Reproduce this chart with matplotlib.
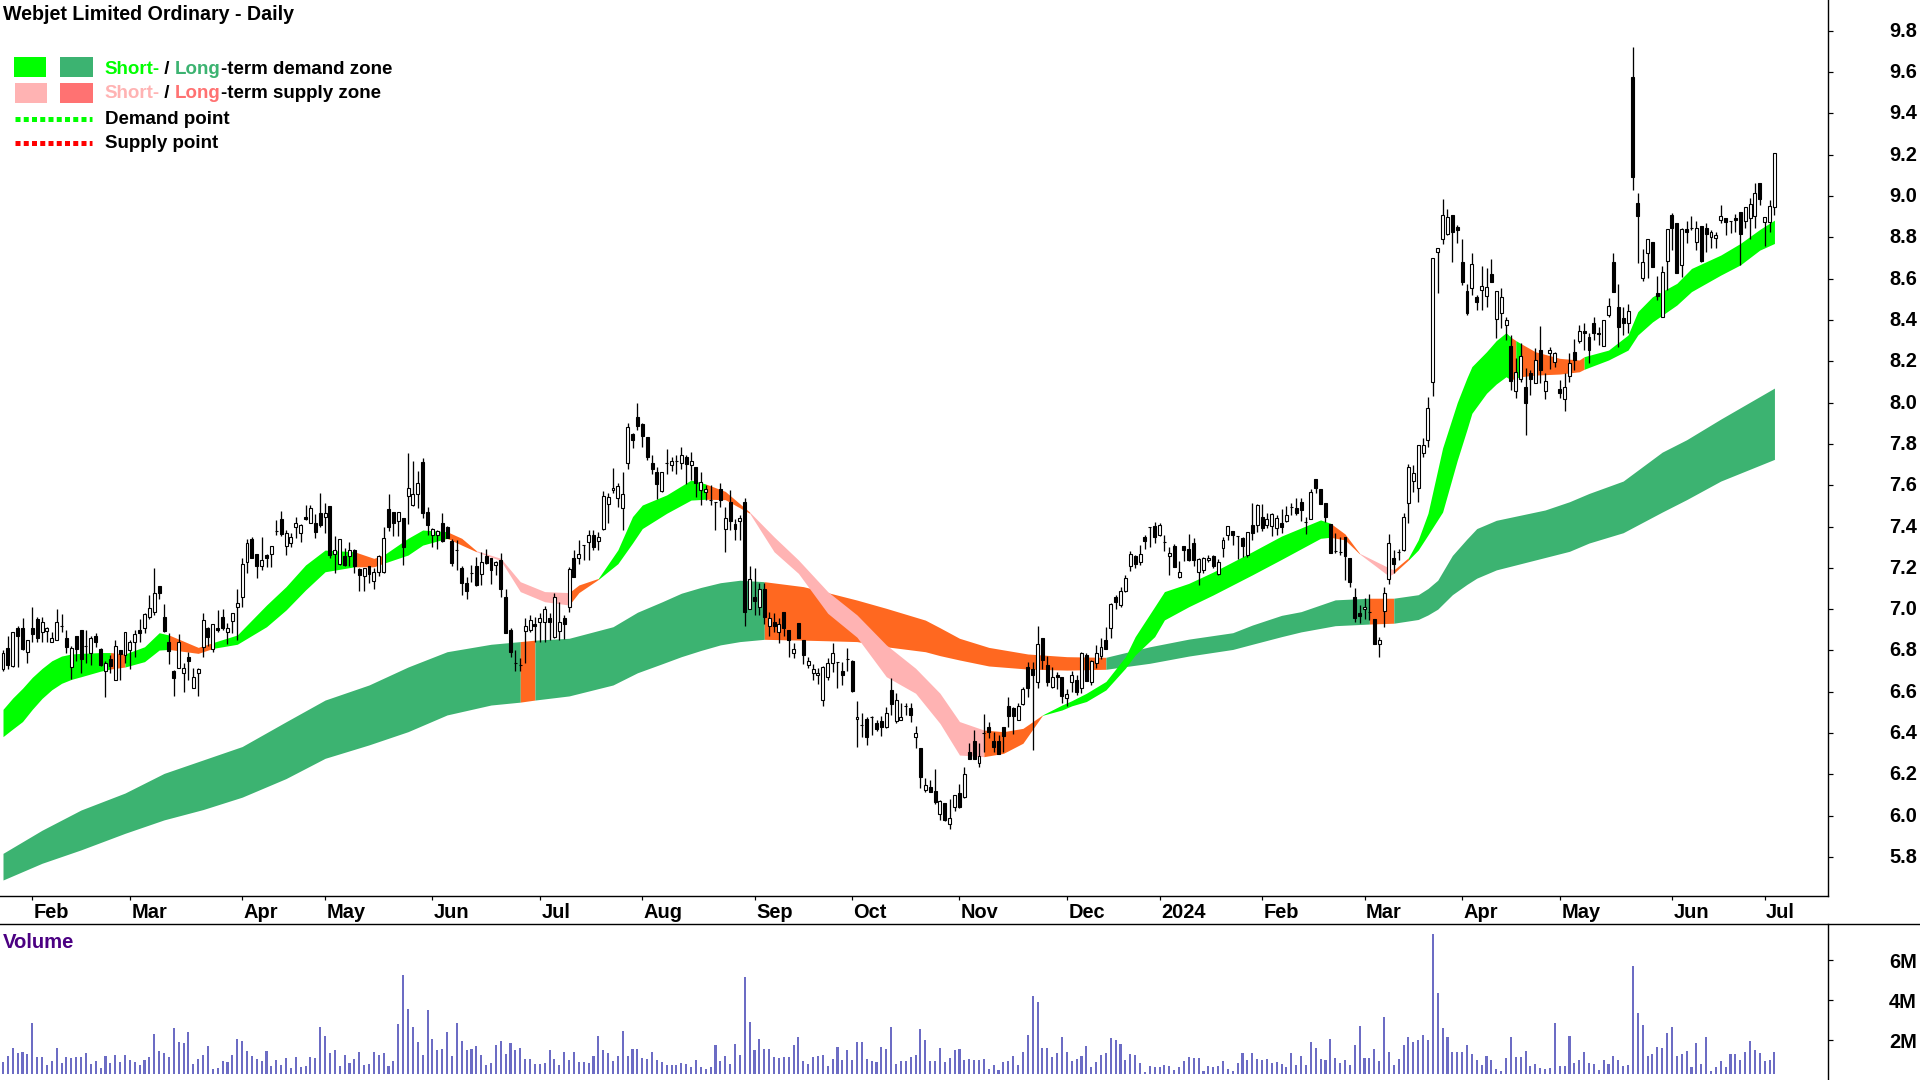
"""
Webjet daily candlestick chart with demand/supply zones and a volume panel.
Values were read off the reference picture.
"""
import matplotlib
matplotlib.use("Agg")  # no display needed, just save the plot to a file
import matplotlib.pyplot as plt
import numpy as np
from matplotlib.lines import Line2D
from matplotlib.patches import Rectangle
from matplotlib.transforms import ScaledTranslation

plt.rcParams["font.family"] = ["Liberation Sans", "DejaVu Sans"]
plt.rcParams["font.weight"] = "bold"

OPENS = [
    6.71,6.81,6.725,6.91,6.91,6.795,6.91,6.95,6.89,6.895,
    6.84,6.85,6.92,6.86,6.72,6.87,6.90,6.82,6.79,6.87,
    6.805,6.70,6.757,6.657,6.80,6.78,6.80,6.84,6.90,6.91,
    6.964,6.985,7.11,6.96,6.84,6.70,6.717,6.69,6.77,6.617,
    6.69,6.815,6.91,6.805,6.91,6.96,6.888,6.944,7.01,7.057,
    7.23,7.34,7.267,7.209,7.26,7.267,7.378,7.436,7.305,7.322,
    7.396,7.367,7.447,7.418,7.418,7.467,7.447,7.499,7.267,7.217,
    7.257,7.257,7.286,7.193,7.16,7.209,7.138,7.18,7.18,7.483,
    7.469,7.428,7.44,7.548,7.504,7.556,7.71,7.469,7.359,7.359,
    7.419,7.4,7.33,7.286,7.2,7.128,7.173,7.21,7.168,7.257,
    7.246,7.214,7.238,7.06,6.90,6.74,6.73,6.896,6.90,6.928,
    6.936,6.94,6.955,6.867,6.896,6.955,7.009,7.246,7.246,7.31,
    7.327,7.359,7.33,7.386,7.507,7.577,7.54,7.488,7.706,7.848,
    7.929,7.896,7.832,7.709,7.662,7.574,7.709,7.698,7.717,7.706,
    7.738,7.698,7.69,7.577,7.565,7.53,7.52,7.58,7.386,7.52,
    7.41,7.428,7.52,7.0,7.06,7.009,7.098,6.918,6.94,6.888,
    6.988,6.899,6.786,6.932,6.851,6.73,6.69,6.681,6.56,6.67,
    6.741,6.743,6.702,6.759,6.751,6.467,6.44,6.468,6.48,6.45,
    6.46,6.428,6.609,6.457,6.463,6.533,6.522,6.38,6.33,6.125,
    6.14,6.12,6.007,6.063,5.96,6.041,6.108,6.09,6.307,6.362,
    6.257,6.399,6.431,6.363,6.363,6.431,6.531,6.522,6.463,6.54,
    6.722,6.71,6.646,6.862,6.73,6.625,6.681,6.67,6.568,6.646,
    6.657,6.617,6.778,6.646,6.738,6.775,6.851,6.907,7.061,7.02,
    7.088,7.209,7.257,7.228,7.351,7.399,7.403,7.359,7.327,7.257,
    7.307,7.157,7.306,7.29,7.322,7.178,7.19,7.238,7.257,7.169,
    7.294,7.359,7.38,7.354,7.343,7.262,7.407,7.407,7.448,7.407,
    7.404,7.394,7.419,7.427,7.496,7.491,7.52,7.42,7.435,7.628,
    7.58,7.512,7.412,7.283,7.278,7.351,7.249,7.061,6.98,7.0,
    6.986,6.951,6.832,6.993,7.144,7.249,7.278,7.286,7.512,7.622,
    7.588,7.754,7.818,8.098,8.727,8.79,8.816,8.908,8.848,8.678,
    8.54,8.556,8.509,8.545,8.515,8.62,8.404,8.435,8.377,8.275,
    8.056,8.114,8.077,8.141,8.096,8.254,8.057,8.238,8.198,8.067,
    8.017,8.13,8.246,8.298,8.348,8.319,8.386,8.338,8.275,8.424,
    8.678,8.461,8.407,8.386,9.574,8.967,8.604,8.725,8.778,8.528,
    8.416,8.686,8.908,8.867,8.666,8.838,8.843,8.779,8.856,8.846,
    8.8,8.798,8.883,8.895,8.877,8.895,8.924,8.879,8.895,8.904,
    9.064,8.875,8.875,8.948,
]
HIGHS = [
    6.80,6.87,6.89,6.92,6.955,6.85,7.01,6.96,6.96,6.915,
    6.89,7.0,6.975,6.90,6.82,6.87,6.90,6.90,6.87,6.885,
    6.81,6.75,6.78,6.85,6.80,6.89,6.85,6.90,6.95,6.98,
    7.07,7.197,7.11,7.025,6.886,6.705,6.88,6.738,6.794,6.714,
    6.714,6.983,6.915,6.928,6.996,7.0,6.935,6.98,7.10,7.25,
    7.338,7.347,7.267,7.347,7.267,7.305,7.43,7.476,7.383,7.367,
    7.444,7.412,7.504,7.504,7.463,7.564,7.515,7.499,7.354,7.339,
    7.294,7.326,7.29,7.197,7.2,7.21,7.197,7.262,7.40,7.556,
    7.472,7.472,7.44,7.754,7.717,7.669,7.733,7.496,7.391,7.383,
    7.464,7.403,7.338,7.335,7.21,7.157,7.214,7.254,7.275,7.29,
    7.246,7.233,7.273,7.096,6.91,6.80,6.762,6.955,6.971,6.964,
    6.98,7.017,6.98,7.077,7.036,6.97,7.206,7.286,7.335,7.31,
    7.383,7.383,7.375,7.573,7.56,7.682,7.609,7.665,7.90,7.851,
    7.996,7.90,7.832,7.746,7.69,7.665,7.775,7.738,7.746,7.783,
    7.746,7.759,7.69,7.665,7.60,7.60,7.52,7.612,7.496,7.577,
    7.435,7.456,7.536,7.209,7.2,7.125,7.125,6.988,6.983,6.956,
    6.988,6.899,6.838,6.932,6.851,6.77,6.735,6.713,6.725,6.762,
    6.838,6.746,6.746,6.81,6.754,6.557,6.496,6.48,6.483,6.463,
    6.483,6.528,6.668,6.593,6.544,6.544,6.544,6.434,6.33,6.184,
    6.173,6.225,6.077,6.063,6.08,6.10,6.154,6.238,6.35,6.415,
    6.35,6.492,6.455,6.407,6.39,6.431,6.576,6.528,6.544,6.625,
    6.746,6.746,6.918,6.862,6.773,6.722,6.694,6.673,6.612,6.70,
    6.682,6.794,6.786,6.754,6.826,6.859,6.915,7.028,7.069,7.106,
    7.165,7.283,7.262,7.311,7.359,7.399,7.424,7.415,7.359,7.299,
    7.314,7.233,7.306,7.364,7.346,7.246,7.254,7.262,7.262,7.241,
    7.348,7.403,7.38,7.354,7.348,7.375,7.515,7.507,7.507,7.464,
    7.464,7.456,7.485,7.499,7.515,7.536,7.536,7.445,7.582,7.628,
    7.58,7.512,7.412,7.367,7.348,7.351,7.249,7.104,7.02,7.056,
    7.072,6.951,6.867,7.109,7.364,7.286,7.29,7.464,7.703,7.698,
    7.794,7.83,8.028,8.698,8.746,8.985,8.935,8.908,8.859,8.79,
    8.574,8.722,8.52,8.662,8.649,8.693,8.54,8.553,8.412,8.327,
    8.214,8.286,8.165,8.157,8.262,8.372,8.141,8.27,8.246,8.109,
    8.144,8.238,8.306,8.375,8.383,8.338,8.412,8.367,8.399,8.504,
    8.722,8.572,8.464,8.475,9.719,9.012,8.741,8.79,8.778,8.614,
    8.662,8.838,8.916,8.867,8.846,8.88,8.903,8.88,8.856,8.87,
    8.835,8.827,8.956,8.895,8.877,8.911,8.924,8.948,8.988,9.064,
    9.064,8.896,8.98,9.206,
]
LOWS = [
    6.70,6.71,6.72,6.72,6.80,6.74,6.84,6.84,6.84,6.84,
    6.84,6.85,6.89,6.79,6.66,6.75,6.69,6.74,6.73,6.815,
    6.725,6.575,6.69,6.657,6.657,6.74,6.71,6.77,6.84,6.885,
    6.95,6.97,7.05,6.89,6.733,6.58,6.713,6.60,6.657,6.617,
    6.58,6.77,6.82,6.794,6.89,6.90,6.83,6.883,6.85,7.01,
    7.177,7.25,7.15,7.19,7.205,7.205,7.36,7.354,7.262,7.302,
    7.343,7.323,7.43,7.418,7.343,7.396,7.37,7.25,7.173,7.214,
    7.21,7.21,7.173,7.09,7.09,7.125,7.10,7.16,7.176,7.38,
    7.354,7.354,7.214,7.412,7.50,7.488,7.44,7.359,7.30,7.29,
    7.323,7.343,7.21,7.19,7.07,7.05,7.133,7.114,7.117,7.22,
    7.122,7.165,7.06,6.883,6.77,6.70,6.70,6.74,6.89,6.843,
    6.843,6.843,6.85,6.86,6.85,6.854,6.988,7.157,7.22,7.238,
    7.238,7.286,7.286,7.383,7.415,7.56,7.496,7.383,7.68,7.778,
    7.867,7.786,7.722,7.654,7.532,7.569,7.654,7.67,7.654,7.678,
    7.605,7.625,7.545,7.504,7.53,7.504,7.383,7.496,7.278,7.383,
    7.335,7.335,6.92,7.0,6.972,6.972,6.93,6.87,6.89,6.835,
    6.87,6.767,6.762,6.859,6.733,6.713,6.657,6.638,6.533,6.657,
    6.694,6.62,6.633,6.70,6.60,6.331,6.383,6.343,6.39,6.412,
    6.388,6.423,6.49,6.447,6.463,6.488,6.452,6.33,6.133,6.117,
    6.117,6.057,5.98,5.976,5.934,6.025,6.036,6.085,6.273,6.273,
    6.238,6.31,6.375,6.31,6.297,6.31,6.43,6.394,6.463,6.536,
    6.576,6.32,6.62,6.71,6.63,6.62,6.615,6.544,6.53,6.60,
    6.585,6.593,6.65,6.633,6.714,6.757,6.806,6.859,6.999,7.012,
    7.085,7.185,7.198,7.214,7.29,7.303,7.322,7.354,7.283,7.166,
    7.203,7.149,7.233,7.233,7.209,7.117,7.173,7.23,7.198,7.165,
    7.251,7.335,7.311,7.241,7.251,7.254,7.335,7.375,7.38,7.391,
    7.356,7.359,7.367,7.424,7.456,7.456,7.427,7.364,7.435,7.561,
    7.507,7.42,7.273,7.27,7.262,7.141,7.109,6.94,6.932,6.951,
    6.947,6.832,6.77,6.915,7.122,7.173,7.238,7.283,7.415,7.569,
    7.52,7.738,7.783,8.032,8.528,8.767,8.81,8.682,8.77,8.569,
    8.424,8.52,8.448,8.448,8.461,8.585,8.311,8.359,8.302,8.061,
    8.023,8.101,7.843,8.036,8.093,8.093,8.017,8.162,8.17,8.02,
    7.96,8.101,8.157,8.286,8.254,8.19,8.302,8.278,8.275,8.416,
    8.537,8.27,8.327,8.338,9.029,8.674,8.588,8.601,8.658,8.496,
    8.416,8.545,8.738,8.628,8.609,8.77,8.835,8.738,8.682,8.73,
    8.746,8.746,8.867,8.811,8.819,8.824,8.666,8.843,8.79,8.843,
    8.956,8.758,8.827,8.908,
]
CLOSES = [
    6.79,6.73,6.89,6.87,6.805,6.85,6.88,6.86,6.94,6.91,
    6.86,6.94,6.92,6.815,6.81,6.805,6.757,6.82,6.86,6.84,
    6.73,6.74,6.727,6.82,6.785,6.89,6.84,6.88,6.885,6.977,
    7.008,7.077,7.077,6.896,6.797,6.668,6.843,6.714,6.75,6.673,
    6.71,6.947,6.867,6.928,6.90,6.91,6.91,6.98,7.03,7.218,
    7.32,7.25,7.209,7.238,7.25,7.305,7.378,7.364,7.367,7.347,
    7.418,7.407,7.438,7.49,7.375,7.407,7.467,7.262,7.286,7.339,
    7.214,7.286,7.209,7.165,7.2,7.17,7.18,7.259,7.343,7.4,
    7.419,7.469,7.30,7.588,7.557,7.609,7.464,7.407,7.388,7.378,
    7.33,7.346,7.225,7.286,7.125,7.088,7.173,7.117,7.23,7.225,
    7.19,7.23,7.096,6.886,6.794,6.74,6.73,6.918,6.948,6.918,
    6.955,7.0,6.94,7.06,6.94,6.928,7.193,7.157,7.267,7.31,
    7.359,7.30,7.35,7.549,7.541,7.588,7.596,7.557,7.88,7.819,
    7.887,7.838,7.735,7.677,7.604,7.662,7.709,7.719,7.717,7.746,
    7.702,7.719,7.612,7.617,7.58,7.528,7.52,7.528,7.44,7.428,
    7.388,7.44,6.985,7.146,7.04,7.10,6.964,6.956,6.918,6.928,
    6.907,6.85,6.807,6.859,6.778,6.749,6.71,6.692,6.722,6.741,
    6.79,6.743,6.681,6.759,6.605,6.48,6.44,6.38,6.48,6.418,
    6.428,6.499,6.54,6.56,6.48,6.533,6.486,6.399,6.189,6.149,
    6.117,6.068,6.072,5.98,5.987,6.10,6.041,6.202,6.275,6.275,
    6.289,6.399,6.407,6.331,6.297,6.386,6.484,6.484,6.531,6.612,
    6.617,6.681,6.831,6.754,6.646,6.67,6.67,6.58,6.588,6.682,
    6.597,6.79,6.654,6.749,6.786,6.819,6.806,7.023,7.036,7.09,
    7.149,7.267,7.217,7.267,7.33,7.399,7.348,7.409,7.327,7.27,
    7.206,7.18,7.286,7.238,7.238,7.241,7.25,7.25,7.209,7.23,
    7.335,7.403,7.359,7.354,7.306,7.372,7.367,7.503,7.394,7.436,
    7.459,7.44,7.399,7.456,7.496,7.464,7.48,7.42,7.569,7.585,
    7.507,7.445,7.273,7.283,7.278,7.257,7.133,6.956,6.968,7.012,
    6.986,6.832,6.851,7.08,7.322,7.219,7.278,7.448,7.69,7.657,
    7.794,7.794,7.972,8.698,8.746,8.908,8.896,8.827,8.835,8.585,
    8.432,8.669,8.488,8.566,8.557,8.585,8.54,8.509,8.398,8.104,
    8.149,8.227,8.0,8.114,8.206,8.157,8.106,8.254,8.238,8.048,
    8.077,8.19,8.206,8.348,8.338,8.254,8.338,8.33,8.399,8.469,
    8.537,8.367,8.386,8.444,9.093,8.904,8.678,8.79,8.658,8.516,
    8.63,8.838,8.846,8.628,8.838,8.827,8.843,8.846,8.685,8.816,
    8.827,8.809,8.904,8.875,8.877,8.883,8.816,8.948,8.961,9.016,
    8.985,8.896,8.951,9.206,
]
VOLUME = [  # millions of shares
    0.92,1.22,1.62,1.37,1.42,1.32,2.87,1.17,1.17,0.77,
    0.97,1.62,0.87,1.17,1.12,1.17,1.17,1.37,0.82,0.97,
    0.62,1.22,0.87,1.27,0.92,1.27,1.02,0.92,0.77,1.02,
    1.17,2.32,1.47,1.37,1.17,2.62,1.92,1.87,2.42,0.82,
    1.07,1.27,1.72,0.57,0.62,0.97,0.92,1.27,2.07,1.97,
    1.47,1.22,1.07,0.97,1.47,0.72,1.02,0.77,1.12,0.62,
    1.17,0.67,0.72,1.17,1.12,2.67,2.22,1.37,1.52,0.72,
    1.27,0.87,1.07,1.42,0.77,0.82,1.42,1.27,1.37,0.72,
    0.97,2.82,5.27,3.57,2.67,1.92,1.27,3.52,2.07,1.52,
    1.57,2.42,1.22,2.87,1.97,1.52,1.57,1.72,1.27,0.77,
    0.87,1.77,1.97,1.32,1.87,1.52,1.62,1.07,1.07,0.82,
    0.82,0.87,1.52,1.07,0.77,1.42,1.02,1.42,0.92,0.92,
    0.87,1.22,2.22,1.52,1.37,0.97,1.22,2.47,1.22,1.57,
    1.57,1.12,1.07,1.42,1.02,0.92,0.77,0.77,0.77,0.87,
    0.82,0.67,1.02,0.67,0.57,0.67,1.77,0.97,1.22,0.82,
    1.82,1.27,5.17,2.92,1.52,2.07,1.57,1.57,1.17,1.12,
    1.17,1.17,1.77,2.17,0.97,0.82,1.17,1.22,1.27,0.72,
    1.07,1.67,1.02,1.52,1.02,1.92,1.92,1.07,0.97,0.92,
    1.67,1.57,2.67,0.82,0.97,0.97,1.17,1.27,2.57,2.02,
    0.97,0.97,1.62,0.92,1.12,1.52,1.57,1.02,1.07,1.02,
    1.02,1.07,0.57,0.77,0.52,0.92,0.97,1.22,0.77,1.42,
    2.27,4.22,3.92,1.62,1.62,1.17,1.37,2.17,1.42,0.97,
    1.07,1.22,1.72,0.67,0.92,1.27,1.37,2.12,2.02,1.82,
    1.02,1.32,1.27,0.87,0.42,0.72,0.67,0.67,0.77,0.72,
    0.52,0.67,0.97,1.17,1.12,1.12,0.47,0.72,0.67,0.72,
    0.97,0.57,0.47,0.87,1.37,1.02,1.37,1.07,1.02,1.07,
    0.87,0.92,
    0.82,0.67,1.37,0.77,1.22,0.77,1.92,1.62,1.07,1.02,
    2.07,1.12,0.87,1.02,0.77,1.77,2.72,1.12,1.12,1.57,
    0.97,3.17,1.42,0.77,1.07,1.77,2.17,1.92,2.02,2.27,
    2.02,7.32,4.37,2.62,2.17,1.42,1.42,1.42,1.77,1.32,
    1.02,0.77,1.22,1.02,0.57,0.47,1.12,2.17,1.17,1.17,
    1.47,0.72,0.82,0.62,0.57,0.62,2.87,0.72,0.72,2.22,
    0.87,1.02,1.42,0.87,0.82,0.52,1.02,0.82,1.22,1.02,
    0.72,0.77,5.72,3.37,2.77,1.22,1.32,1.67,1.62,2.37,
    2.67,1.22,1.32,1.47,0.67,1.87,0.82,2.17,0.47,0.67,
    0.97,0.67,1.32,1.32,1.02,1.42,1.97,1.52,1.37,0.97,
    1.02,1.42,
]

# Zones, sampled at the bar numbers in *_BARS
SHORT_BARS = [0,2,4,6,8,10,12,14,16,20,22,25,29,32,34,40,43,48,54,58,62,66,72,76,78,83,86,91,94,97,102,106,111,116,118,122,126,
              129,131,136,141,144,148,153,158,163,169,175,181,187,192,196,201,205,209,213,217,219,222,226,230,232,236,
              238,243,248,256,262,270,272,275,278,284,285,288,290,292,295,298,300,301,304,306,308,309,310,311,314,319,323,324,
              329,333,335,338,343,346,352,356,360,363]
SHORT_HI = [6.515,6.57,6.617,6.67,6.713,6.75,6.773,6.783,6.786,6.79,6.79,6.783,6.818,6.886,6.875,6.815,6.838,6.875,7.02,7.109,7.214,7.286,
            7.278,7.246,7.262,7.343,7.383,7.375,7.343,7.283,7.246,7.133,7.085,7.08,7.117,7.149,7.287,
            7.448,7.504,7.553,7.625,7.606,7.57,7.47,7.35,7.238,7.085,6.972,6.827,6.714,6.593,6.456,6.415,6.407,6.423,
            6.488,6.536,6.557,6.593,6.65,6.77,6.867,7.012,
            7.085,7.125,7.18,7.278,7.354,7.432,7.416,7.364,7.27,7.2,7.19,7.249,7.335,7.464,7.78,8.0,8.12,8.174,8.246,8.3,8.338,
            8.316,8.3,8.286,8.246,8.214,8.206,8.222,
            8.254,8.327,8.44,8.512,8.577,8.649,8.714,8.77,8.838,8.883]
SHORT_LO = [6.383,6.42,6.456,6.515,6.568,6.61,6.641,6.66,6.673,6.70,6.71,6.72,6.746,6.802,6.805,6.786,6.81,6.83,6.915,6.996,7.093,7.181,
            7.205,7.205,7.222,7.262,7.31,7.343,7.31,7.278,7.235,7.085,7.036,7.02,7.08,7.144,7.22,
            7.32,7.39,7.464,7.528,7.532,7.53,7.464,7.278,7.173,6.98,6.864,6.673,6.593,6.447,6.294,6.286,6.302,6.351,
            6.486,6.512,6.532,6.553,6.609,6.714,6.778,6.867,
            6.948,7.012,7.069,7.166,7.241,7.343,7.348,7.335,7.267,7.16,7.174,7.238,7.286,7.359,7.47,7.72,7.87,7.948,8.045,8.09,
            8.125,8.11,8.118,8.125,8.133,8.138,8.149,8.161,
            8.206,8.254,8.327,8.39,8.472,8.537,8.617,8.666,8.738,8.77]
LONG_BARS = [0,8,16,25,33,41,49,58,66,75,83,91,100,106,109,116,125,130,135,139,143,147,151,156,164,169,175,181,189,192,196,202,210,
             218,226,235,243,252,256,262,266,273,280,285,290,292,294,297,300,302,306,316,321,325,332,336,340,345,352,363]
LONG_HI = [5.818,5.93,6.028,6.11,6.205,6.27,6.335,6.455,6.56,6.633,6.72,6.794,6.83,6.843,6.85,6.859,6.915,6.985,7.035,7.077,7.105,
           7.128,7.14,7.133,7.109,7.08,7.044,7.004,6.947,6.91,6.859,6.815,6.783,
           6.77,6.767,6.818,6.855,6.886,6.923,6.97,6.988,7.045,7.053,7.053,7.07,7.10,7.14,7.26,7.34,7.39,7.43,7.48,7.52,7.56,7.62,7.69,7.76,7.82,
           7.92,8.07]
LONG_LO = [5.689,5.77,5.835,5.915,5.98,6.03,6.09,6.18,6.278,6.343,6.407,6.488,6.536,6.55,6.56,6.58,6.633,6.692,6.735,6.77,6.80,
           6.827,6.843,6.854,6.85,6.847,6.843,6.818,6.794,6.775,6.754,6.725,6.71,
           6.705,6.709,6.738,6.773,6.805,6.83,6.867,6.89,6.92,6.928,6.932,6.95,6.972,7.0,7.07,7.12,7.15,7.19,7.25,7.28,7.32,7.37,7.42,7.47,7.53,
           7.62,7.725]

BRIGHT_GREEN = "#00ff00"
SEA_GREEN = "#3cb371"
ORANGE = "#ff6820"
PINK = "#ffb3b3"
LEGEND_RED = "#ff7272"
VOLUME_BLUE = "#6c6cc4"

# (first bar, last bar, colour) for each stretch of a zone
SHORT_STRETCHES = [
    (0, 22, BRIGHT_GREEN), (22, 25, ORANGE), (25, 34, BRIGHT_GREEN), (34, 43, ORANGE), (43, 72, BRIGHT_GREEN),
    (72, 78, ORANGE), (78, 91, BRIGHT_GREEN), (91, 97, ORANGE), (97, 116, PINK), (116, 122, ORANGE),
    (122, 144, BRIGHT_GREEN), (144, 153, ORANGE), (153, 201, PINK), (201, 213, ORANGE), (213, 272, BRIGHT_GREEN),
    (272, 278, ORANGE), (278, 285, PINK), (285, 288, ORANGE), (288, 309, BRIGHT_GREEN), (309, 310, ORANGE),
    (310, 311, BRIGHT_GREEN), (311, 324, ORANGE), (324, 363, BRIGHT_GREEN),
]
LONG_STRETCHES = [
    (0, 106, SEA_GREEN), (106, 109, ORANGE), (109, 156, SEA_GREEN), (156, 226, ORANGE),
    (226, 280, SEA_GREEN), (280, 285, ORANGE), (285, 363, SEA_GREEN),
]

MONTH_BARS = [6, 26, 49, 66, 88, 110, 131, 154, 174, 196, 218, 237, 258, 279, 299, 319, 342, 361]
MONTH_LABELS = ["Feb", "Mar", "Apr", "May", "Jun", "Jul", "Aug", "Sep", "Oct", "Nov", "Dec", "2024",
                "Feb", "Mar", "Apr", "May", "Jun", "Jul"]
PRICE_TICKS = [5.8, 6.0, 6.2, 6.4, 6.6, 6.8, 7.0, 7.2, 7.4, 7.6, 7.8, 8.0, 8.2, 8.4, 8.6, 8.8, 9.0, 9.2, 9.4, 9.6, 9.8]
VOLUME_TICKS = [2, 4, 6]
VOLUME_TICK_LABELS = ["2M", "4M", "6M"]
VOLUME_FLOOR = 0.28  # bars stop a little above the bottom of the panel

WIDTH, HEIGHT, DPI = 1920, 1080, 100
AXIS_X = 1828  # right hand axis, pixels
PRICE_BOTTOM = 896
VOLUME_TOP = 924
FONT_SIZE = 14.4
LEGEND_SIZE = 13.5
PX = 72 / DPI  # one pixel in points


def draw_zone(ax, bars, hi, lo, stretches):
    bars, hi, lo = np.array(bars), np.array(hi), np.array(lo)
    for start, end, color in stretches:
        keep = (bars >= start) & (bars <= end)
        ax.fill_between(bars[keep], lo[keep], hi[keep], color=color, linewidth=0, zorder=2)


def draw_candles(ax):
    bars = np.arange(len(OPENS))
    opens, closes = np.array(OPENS), np.array(CLOSES)
    ax.vlines(bars, LOWS, HIGHS, color="black", linewidth=1.3 * PX, zorder=3)
    bottoms = np.minimum(opens, closes)
    heights = np.abs(closes - opens)
    faces = ["black" if c < o else "white" for o, c in zip(opens, closes)]
    ax.bar(bars, heights, width=0.6, bottom=bottoms, color=faces, edgecolor="black", linewidth=1.1 * PX, zorder=4)


def color_text(overlay, renderer, x, y, parts):
    for text, color in parts:
        t = overlay.text(x, y, text, color=color, fontsize=LEGEND_SIZE, va="center", ha="left")
        x += t.get_window_extent(renderer).width


def nudge(labels, dx, dy):
    # move tick labels by a few pixels
    shift = ScaledTranslation(dx / DPI, dy / DPI, fig.dpi_scale_trans)
    for label in labels:
        label.set_transform(label.get_transform() + shift)


fig = plt.figure(figsize=(WIDTH / DPI, HEIGHT / DPI), dpi=DPI, facecolor="white")
bar_left = -3 / 4.88
bar_right = (AXIS_X - 3) / 4.88

# price panel
ax = fig.add_axes([0, 1 - PRICE_BOTTOM / HEIGHT, AXIS_X / WIDTH, PRICE_BOTTOM / HEIGHT])
ax.set_xlim(bar_left, bar_right)
ax.set_ylim(9.6 - (PRICE_BOTTOM - 72) / 206.6, 9.6 + 72 / 206.6)
draw_zone(ax, LONG_BARS, LONG_HI, LONG_LO, LONG_STRETCHES)
draw_zone(ax, SHORT_BARS, SHORT_HI, SHORT_LO, SHORT_STRETCHES)
draw_candles(ax)
ax.spines["top"].set_visible(False)
ax.spines["left"].set_visible(False)
ax.spines["right"].set_linewidth(1.4 * PX)
ax.spines["bottom"].set_linewidth(1.4 * PX)
ax.yaxis.tick_right()
ax.set_yticks(PRICE_TICKS)
ax.set_yticklabels([f"{p:.1f}" for p in PRICE_TICKS], ha="right")
ax.tick_params(axis="y", length=5 * PX, width=1.2 * PX, pad=84 * PX, labelsize=FONT_SIZE)
ax.set_xticks(MONTH_BARS)
ax.set_xticklabels(MONTH_LABELS, ha="left")
ax.tick_params(axis="x", length=4 * PX, width=1.2 * PX, pad=3 * PX, labelsize=FONT_SIZE)
nudge(ax.get_xticklabels(), 1.5, 0)
nudge(ax.get_yticklabels(), 0, 1.5)

# volume panel
vol = fig.add_axes([0, 0, AXIS_X / WIDTH, (HEIGHT - VOLUME_TOP) / HEIGHT])
vol.set_xlim(bar_left, bar_right)
vol.set_ylim(0, (HEIGHT - VOLUME_TOP) / 20)
vol.bar(np.arange(len(VOLUME)), np.array(VOLUME) - VOLUME_FLOOR, width=0.42, bottom=VOLUME_FLOOR,
        color=VOLUME_BLUE, linewidth=0)
vol.spines["top"].set_visible(False)
vol.spines["left"].set_visible(False)
vol.spines["bottom"].set_visible(False)
vol.spines["right"].set_linewidth(1.4 * PX)
vol.set_xticks([])
vol.yaxis.tick_right()
vol.set_yticks(VOLUME_TICKS)
vol.set_yticklabels(VOLUME_TICK_LABELS, ha="right")
vol.tick_params(axis="y", length=5 * PX, width=1.2 * PX, pad=84 * PX, labelsize=FONT_SIZE)
nudge(vol.get_yticklabels(), 0, -1)
fig.add_artist(Line2D([0, 1], [1 - VOLUME_TOP / HEIGHT] * 2, color="black", linewidth=1.4 * PX))

# title and legend, placed in pixels
overlay = fig.add_axes([0, 0, 1, 1], facecolor="none")
overlay.set_xlim(0, WIDTH)
overlay.set_ylim(HEIGHT, 0)
overlay.axis("off")
overlay.text(3, 15, "Webjet Limited Ordinary - Daily", fontsize=14.15, va="center", ha="left")
overlay.text(3, 943, "Volume", color="#4b0082", fontsize=14.6, va="center", ha="left")
for x, y, w, color in [(14, 57, 32, BRIGHT_GREEN), (60, 57, 33, SEA_GREEN), (15, 83, 32, PINK), (60, 83, 33, LEGEND_RED)]:
    overlay.add_patch(Rectangle((x, y), w, 20, facecolor=color, linewidth=0))
for y, color in [(119, BRIGHT_GREEN), (143, "#ff0000")]:
    overlay.plot([15, 92], [y, y], color=color, linewidth=5 * PX, dashes=(1.0, 0.65), solid_capstyle="butt")
renderer = fig.canvas.get_renderer()
color_text(overlay, renderer, 104, 69, [("Short-", BRIGHT_GREEN), (" / ", "black"), ("Long", SEA_GREEN),
                                        ("-term demand zone", "black")])
color_text(overlay, renderer, 104, 94, [("Short-", PINK), (" / ", "black"), ("Long", LEGEND_RED),
                                        ("-term supply zone", "black")])
overlay.text(105, 120, "Demand point", fontsize=LEGEND_SIZE, va="center", ha="left")
overlay.text(105, 144, "Supply point", fontsize=LEGEND_SIZE, va="center", ha="left")

fig.savefig("out.png", dpi=DPI)
plt.close(fig)
